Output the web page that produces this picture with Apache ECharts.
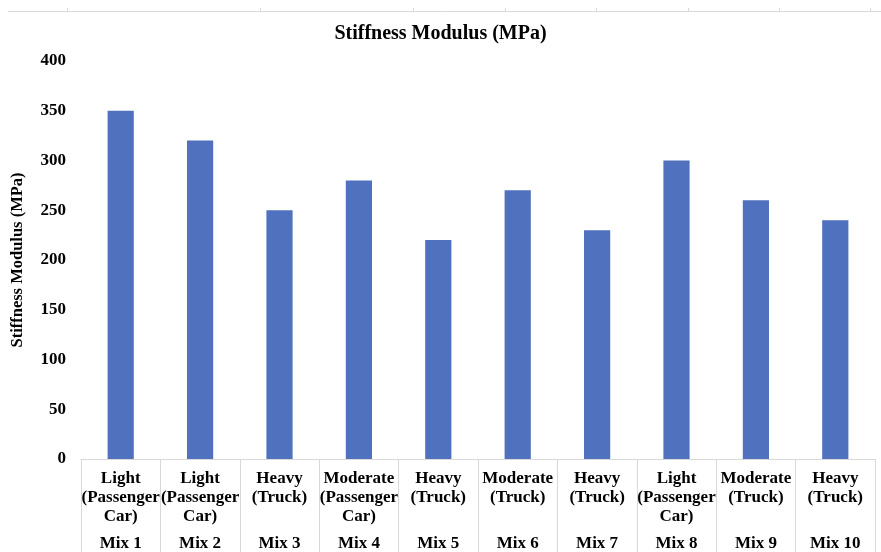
<!DOCTYPE html>
<html>
<head>
<meta charset="utf-8">
<script src="https://cdn.jsdelivr.net/npm/echarts@6/dist/echarts.min.js"></script>
<style>
  html, body { margin: 0; padding: 0; background: #fff; }
  #chart { width: 881px; height: 552px; }
</style>
</head>
<body>
<div id="chart"></div>
<script>
// Traffic class of each mix (upper label row) and mix names (lower row)
const trafficClasses = [
  'Light\n(Passenger\nCar)', 'Light\n(Passenger\nCar)', 'Heavy\n(Truck)',
  'Moderate\n(Passenger\nCar)', 'Heavy\n(Truck)', 'Moderate\n(Truck)',
  'Heavy\n(Truck)', 'Light\n(Passenger\nCar)', 'Moderate\n(Truck)', 'Heavy\n(Truck)'
];
const mixNames = ['Mix 1', 'Mix 2', 'Mix 3', 'Mix 4', 'Mix 5', 'Mix 6', 'Mix 7', 'Mix 8', 'Mix 9', 'Mix 10'];
// Stiffness modulus per mix, MPa
const stiffness = [350, 320, 250, 280, 220, 270, 230, 300, 260, 240];
// Value axis ticks
const yMin = 0, yMax = 400, yStep = 50;

const serif = '"Liberation Serif", "Times New Roman", serif';
const gridLine = '#D9D9D9';
const textStyle = { fontFamily: serif, fontWeight: 'bold', color: '#000', fontSize: 17 };

// Thin ruler strip along the top edge
const rulerTicks = [67, 260, 413, 505, 596, 688, 779, 870];
const graphics = [{
  type: 'line', shape: { x1: 8, y1: 11.5, x2: 881, y2: 11.5 },
  style: { stroke: gridLine, lineWidth: 1 }, silent: true
}].concat(rulerTicks.map(x => ({
  type: 'line', shape: { x1: x + 0.5, y1: 8, x2: x + 0.5, y2: 11 },
  style: { stroke: gridLine, lineWidth: 1 }, silent: true
})));

const chart = echarts.init(document.getElementById('chart'));
chart.setOption({
  backgroundColor: '#fff',
  animation: false,
  graphic: graphics,
  title: {
    text: 'Stiffness Modulus (MPa)',
    left: 'center',
    top: 19,
    textStyle: Object.assign({}, textStyle, { fontSize: 20 })
  },
  grid: { left: 81, right: 6, top: 61, bottom: 93, containLabel: false, outerBoundsMode: 'none' },
  xAxis: [{
    type: 'category',
    data: trafficClasses,
    position: 'bottom',
    axisLine: { show: true, lineStyle: { color: gridLine, width: 1 } },
    axisTick: { show: true, interval: 0, length: 110, lineStyle: { color: gridLine, width: 1 } },
    axisLabel: Object.assign({ interval: 0, margin: 10, lineHeight: 19 }, textStyle)
  }, {
    type: 'category',
    data: mixNames,
    position: 'bottom',
    axisLine: { show: false },
    axisTick: { show: false },
    axisLabel: Object.assign({ interval: 0, margin: 75, lineHeight: 19 }, textStyle)
  }],
  yAxis: {
    type: 'value',
    min: yMin, max: yMax, interval: yStep,
    name: 'Stiffness Modulus (MPa)',
    nameLocation: 'middle',
    nameGap: 55,
    nameTextStyle: Object.assign({}, textStyle, { fontSize: 16.5 }),
    axisLine: { show: false },
    axisTick: { show: false },
    splitLine: { show: false },
    axisLabel: Object.assign({ margin: 15 }, textStyle)
  },
  series: [{
    type: 'bar',
    xAxisIndex: 0,
    data: stiffness,
    barWidth: '33%',
    itemStyle: { color: '#4F71BE' }
  }]
});
</script>
</body>
</html>
